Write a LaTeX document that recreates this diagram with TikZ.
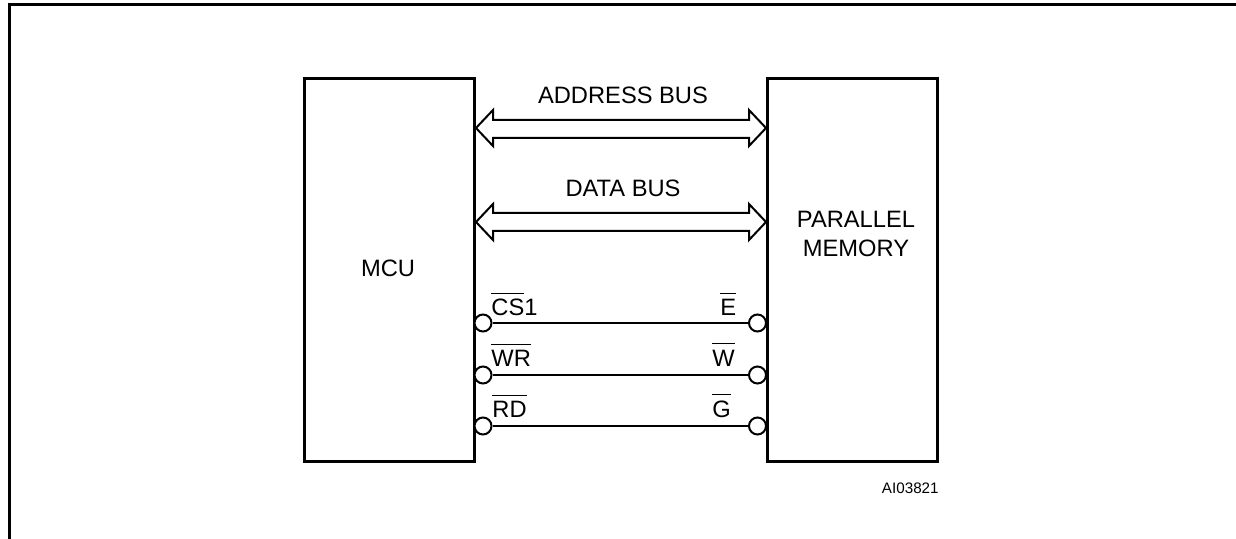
\documentclass[tikz,border=0pt]{standalone}
\usepackage{fontspec}
\setmainfont{Liberation Sans}
\usetikzlibrary{calc}
\newcommand\ovbar[1]{\setbox0\hbox{#1}\rlap{\rule[\dimexpr\ht0+2.6pt\relax]{\wd0}{0.75pt}}\box0\relax}
\begin{document}
\begin{tikzpicture}[x=0.5pt,y=-0.5pt,
  blk/.style={draw,line width=1.5pt,inner sep=0pt,anchor=north west},
  lbl/.style={inner sep=0pt,font=\fontsize{11.85}{14.5}\selectfont},
  bus/.style={draw,line width=1pt,line join=miter,fill=white},
  bubble/.style={draw,circle,line width=1pt,minimum size=8.5pt,inner sep=0pt,fill=white},
  sig/.style={line width=1pt}]
\useasboundingbox (0,0) rectangle (1236,539);
% frame
\draw[line width=1.5pt] (9,539) -- (9,4.3) -- (1240,4.3);
% blocks
\node[blk,minimum width=85pt,minimum height=191.5pt] (mcu) at (303,77) {};
\node[blk,minimum width=85pt,minimum height=191.5pt] (mem) at (766,77) {};
\node[lbl,anchor=base] (mcut) at (388,276.7) {MCU};
\node[lbl,anchor=base,align=center] (memt) at (856,256.7) {PARALLEL\\MEMORY};
% buses
\coordinate (al) at (mcu.east |- 0,128);
\coordinate (ar) at (mem.west |- 0,128);
\draw[bus] (al) -- ++(17,-18) -- ++(0,10) -- ($(ar)+(-17,-8)$) -- ++(0,-10) -- (ar)
  -- ++(-17,18) -- ++(0,-8) -- ($(al)+(17,10)$) -- ++(0,8) -- cycle;
\coordinate (dl) at (mcu.east |- 0,222);
\coordinate (dr) at (mem.west |- 0,222);
\draw[bus] (dl) -- ++(17,-18) -- ++(0,9) -- ($(dr)+(-17,-9)$) -- ++(0,-9) -- (dr)
  -- ++(-17,18) -- ++(0,-9) -- ($(dl)+(17,9)$) -- ++(0,9) -- cycle;
\node[lbl,anchor=base] (abus) at (623,103.3) {ADDRESS BUS};
\node[lbl,anchor=base] (dbus) at (623,196.7) {DATA BUS};
% control lines
\node[bubble] (c1l) at (483,323) {};
\node[bubble] (c1r) at (757.5,323) {};
\node[bubble] (c2l) at (483,375) {};
\node[bubble] (c2r) at (757.5,375) {};
\node[bubble] (c3l) at (483,426) {};
\node[bubble] (c3r) at (757.5,426) {};
\draw[sig] (c1l) -- (c1r);
\draw[sig] (c2l) -- (c2r);
\draw[sig] (c3l) -- (c3r);
\node[lbl,anchor=base west] (cs) at (491,316) {\ovbar{CS}1};
\node[lbl,anchor=base west] (wr) at (491,366.7) {\ovbar{WR}};
\node[lbl,anchor=base west] (rd) at (492,417.7) {\ovbar{RD}};
\node[lbl,anchor=base west] (e) at (720,316) {\ovbar{E}};
\node[lbl,anchor=base west] (w) at (712,366) {\ovbar{W}};
\node[lbl,anchor=base west] (g) at (712,417) {\ovbar{G}};
% id
\node[inner sep=0pt,anchor=base east,font=\fontsize{7.6}{9}\selectfont] (id) at (939,493) {AI03821};
\end{tikzpicture}
\end{document}
